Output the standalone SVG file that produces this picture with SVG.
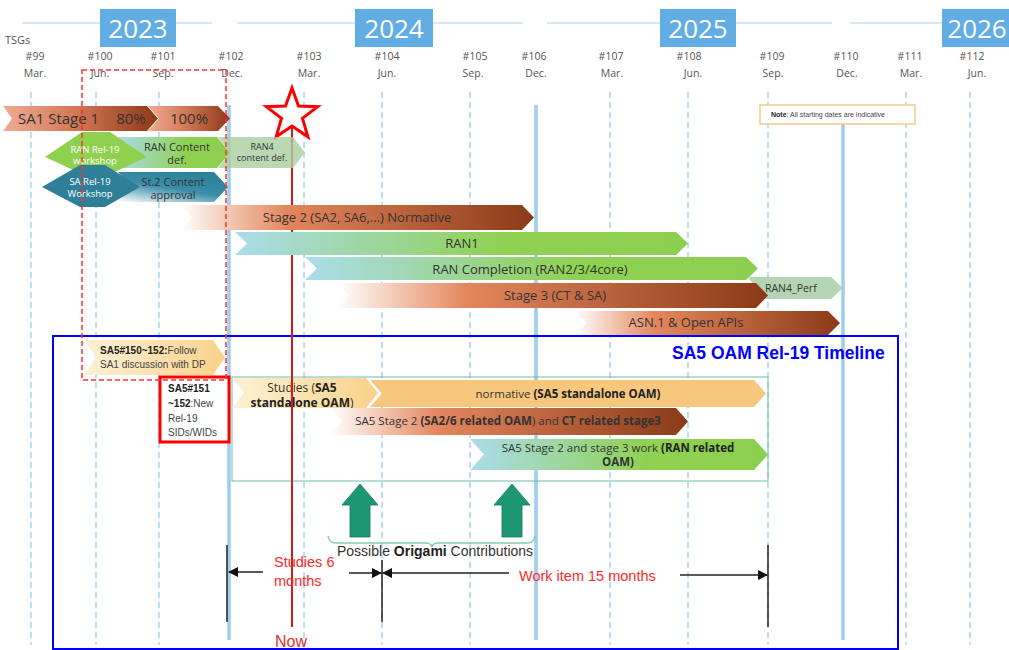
<svg xmlns="http://www.w3.org/2000/svg" width="1009" height="650" viewBox="0 0 1009 650">
<style>
.hdr{font-family:"Open Sans","DejaVu Sans",sans-serif;font-size:10.5px;fill:#555;text-anchor:middle}
.yr{font-family:"Open Sans","DejaVu Sans",sans-serif;font-size:26px;fill:#fff;text-anchor:middle}
.bt{font-family:"Open Sans","DejaVu Sans",sans-serif;fill:#333;text-anchor:middle}
.wt{font-family:"Open Sans","DejaVu Sans",sans-serif;fill:#fff;text-anchor:middle;font-size:9.5px}
.ar{font-family:"Liberation Sans",Arial,sans-serif}
.grid{stroke:#a9d3f0;stroke-width:1.5;stroke-dasharray:6 4;fill:none}
.solid{stroke:#9fcdee;stroke-width:3.5;fill:none}
.red{font-family:"Liberation Sans",Arial,sans-serif;fill:#ff2a2a;font-size:14.5px}
.dim{stroke:#222;stroke-width:1.5;fill:none}
</style>
<defs>
<linearGradient id="sa1" x1="0" y1="0" x2="1" y2="0"><stop offset="0" stop-color="#eeac94"/><stop offset="0.45" stop-color="#d47a55"/><stop offset="1" stop-color="#8d3917"/></linearGradient>
<linearGradient id="brown" x1="0" y1="0" x2="1" y2="0"><stop offset="0" stop-color="#ffffff"/><stop offset="0.3" stop-color="#e4875d"/><stop offset="1" stop-color="#8a3a17"/></linearGradient>
<linearGradient id="bg" x1="0" y1="0" x2="1" y2="0"><stop offset="0" stop-color="#abdcec"/><stop offset="0.6" stop-color="#8fd151"/><stop offset="1" stop-color="#8ccf4e"/></linearGradient>
<linearGradient id="teal" x1="0" y1="1" x2="0.6" y2="0"><stop offset="0" stop-color="#ffffff"/><stop offset="0.55" stop-color="#3a8ea8"/><stop offset="1" stop-color="#2f8199"/></linearGradient>
<linearGradient id="yel" x1="0" y1="0" x2="1" y2="0"><stop offset="0" stop-color="#fdf1d6"/><stop offset="1" stop-color="#f9d28a"/></linearGradient>
<marker id="ah" viewBox="0 0 10 10" refX="9" refY="5" markerWidth="7" markerHeight="7" orient="auto"><path d="M0,0 L10,5 L0,10 Z" fill="#111"/></marker>
</defs>
<rect width="1009" height="650" fill="#fff"/>

<g id="header">
<path d="M22,23 H212 M237,23 H523 M547,23 H832 M850,23 H1009" stroke="#d6e8f6" stroke-width="2"/>
<rect x="100" y="9" width="76" height="38" fill="#62ade3"/><text class="yr" x="138" y="38">2023</text>
<rect x="355" y="9" width="78" height="38" fill="#62ade3"/><text class="yr" x="394" y="38">2024</text>
<rect x="660" y="9" width="76" height="38" fill="#62ade3"/><text class="yr" x="698" y="38">2025</text>
<rect x="942" y="9" width="70" height="38" fill="#62ade3"/><text class="yr" x="977" y="38" font-size="25">2026</text>
<text class="hdr" x="5" y="44" style="text-anchor:start;font-size:11px">TSGs</text>
<text class="hdr" x="35" y="60">#99</text><text class="hdr" x="35" y="77">Mar.</text>
<text class="hdr" x="100" y="60">#100</text><text class="hdr" x="100" y="77">Jun.</text>
<text class="hdr" x="163" y="60">#101</text><text class="hdr" x="163" y="77">Sep.</text>
<text class="hdr" x="231" y="60">#102</text><text class="hdr" x="232" y="77">Dec.</text>
<text class="hdr" x="309" y="60">#103</text><text class="hdr" x="309" y="77">Mar.</text>
<text class="hdr" x="387" y="60">#104</text><text class="hdr" x="387" y="77">Jun.</text>
<text class="hdr" x="475" y="60">#105</text><text class="hdr" x="473" y="77">Sep.</text>
<text class="hdr" x="534" y="60">#106</text><text class="hdr" x="536" y="77">Dec.</text>
<text class="hdr" x="611" y="60">#107</text><text class="hdr" x="612" y="77">Mar.</text>
<text class="hdr" x="689" y="60">#108</text><text class="hdr" x="693" y="77">Jun.</text>
<text class="hdr" x="772" y="60">#109</text><text class="hdr" x="773" y="77">Sep.</text>
<text class="hdr" x="846" y="60">#110</text><text class="hdr" x="847" y="77">Dec.</text>
<text class="hdr" x="910" y="60">#111</text><text class="hdr" x="911" y="77">Mar.</text>
<text class="hdr" x="972" y="60">#112</text><text class="hdr" x="977" y="77">Jun.</text>
</g>

<g id="grid">
<path class="grid" d="M31,92 V645 M159,92 V645 M304,92 V645 M382,92 V645 M470,92 V645 M610,92 V645 M688,92 V645 M768,92 V645 M906,92 V645 M970,92 V645"/>
<path class="grid" d="M96,92 V645" stroke="#4fb3da"/>
<path class="solid" d="M229,105 V640 M536,105 V640 M843,105 V640"/>
</g>

<g id="blue-frame"><rect x="53" y="336" width="845" height="313" fill="none" stroke="#0000ff" stroke-width="2"/></g>

<g id="sa5-bars">
<g id="sa5-150"><path d="M84,340 H213 L225,357.5 L213,375 H84 L96,357.5 Z" fill="url(#yel)"/>
<text class="ar" x="100" y="354" font-size="10" fill="#444"><tspan font-weight="bold" fill="#222">SA5#150~152:</tspan>Follow</text>
<text class="ar" x="100" y="368" font-size="10" fill="#444">SA1 discussion with DP</text></g>
<g id="sa5-151"><rect x="160" y="377" width="69" height="65" fill="#fff" stroke="#ff0000" stroke-width="3"/>
<text class="ar" x="168" y="392" font-size="10" font-weight="bold" fill="#222">SA5#151</text>
<text class="ar" x="168" y="407" font-size="10" fill="#444"><tspan font-weight="bold" fill="#222">~152</tspan>:New</text>
<text class="ar" x="168" y="422" font-size="10" fill="#444">Rel-19</text>
<text class="ar" x="168" y="436" font-size="10" fill="#444">SIDs/WIDs</text></g>
<rect id="sa5-frame" x="232" y="377" width="536" height="104" fill="none" stroke="#6cbfa8" stroke-width="1"/>
<g id="normative"><path d="M370,380 H754 L766,393.5 L754,407 H370 L382,393.5 Z" fill="#f6c77d"/>
<text class="bt" x="568" y="398" font-size="11.5">normative <tspan font-weight="bold" fill="#222">(SA5 standalone OAM)</tspan></text></g>
<g id="studies"><path d="M232,378 H366 L378,393 L366,408 H232 L244,393 Z" fill="url(#yel)"/>
<text class="bt" x="302" y="392" font-size="12">Studies (<tspan font-weight="bold" fill="#222">SA5</tspan></text>
<text class="bt" x="302" y="407" font-size="12"><tspan font-weight="bold" fill="#222">standalone OAM</tspan>)</text></g>
<g id="sa5-stage2"><path d="M330,408 H676 L688,421.5 L676,435 H330 L342,421.5 Z" fill="url(#brown)"/>
<text class="bt" x="508" y="425" font-size="11.5" fill="#3a2a22">SA5 Stage 2 <tspan font-weight="bold">(SA2/6 related OAM</tspan>) and <tspan font-weight="bold">CT related stage3</tspan></text></g>
<g id="sa5-ran"><path d="M470,439 H754 L768,454.5 L754,470 H470 L484,454.5 Z" fill="url(#bg)"/>
<text class="bt" x="618" y="452" font-size="11.5">SA5 Stage 2 and stage 3 work <tspan font-weight="bold" fill="#222">(RAN related</tspan></text>
<text class="bt" x="618" y="466" font-size="11.5" font-weight="bold" fill="#222">OAM)</text></g>
</g>

<g id="now">
<path d="M292,126 V627" stroke="#d01c1c" stroke-width="2"/>
<polygon points="292,88 298.5,106.1 317.7,106.7 302.5,118.4 307.9,136.8 292,126 276.1,136.8 281.5,118.4 266.3,106.7 285.5,106.1" fill="#fff" stroke="#ff0000" stroke-width="3" stroke-linejoin="miter"/>
<text class="ar" x="275" y="647" font-size="16" fill="#e03030">Now</text>
</g>

<g id="upper-bars">
<g id="sa1"><path d="M3,106 H147 L158,118.5 L147,131 H3 L12,118.5 Z" fill="url(#sa1)"/>
<path d="M148,106 H218 L230,118.5 L218,131 H148 L159,118.5 Z" fill="url(#sa1)"/>
<text class="bt" x="18" y="124" font-size="15" style="text-anchor:start" fill="#3a2a22">SA1 Stage 1</text>
<text class="bt" x="131" y="124" font-size="15" fill="#3a2a22">80%</text>
<text class="bt" x="189" y="124" font-size="15" fill="#3a2a22">100%</text></g>
<g id="ran-content"><path d="M118,137 H217 L230,152.5 L217,168 H118 L131,152.5 Z" fill="url(#bg)"/>
<text class="bt" x="177" y="151" font-size="11">RAN Content</text><text class="bt" x="177" y="164" font-size="11">def.</text></g>
<g id="ran4-content"><path d="M218,137 H293 L305,152.5 L293,168 H218 L230,152.5 Z" fill="#a9cf9f" fill-opacity="0.8"/>
<text class="bt" x="262" y="150" font-size="9">RAN4</text><text class="bt" x="262" y="161" font-size="9">content def.</text></g>
<g id="ran-workshop"><polygon points="45,157 82,132 110,132 147,157 110,174 82,174" fill="#8fd14f"/>
<text class="wt" x="95" y="153">RAN Rel-19</text><text class="wt" x="95" y="164">workshop</text></g>
<g id="st2"><path d="M118,172 H214 L228,187 L214,202 H118 L132,187 Z" fill="url(#teal)"/>
<text class="bt" x="173" y="186" font-size="11">St.2 Content</text><text class="bt" x="173" y="199" font-size="11">approval</text></g>
<g id="sa-workshop"><polygon points="42,187 80,165 105,165 140,187 105,207 80,207" fill="#2e7f97"/>
<text class="wt" x="90" y="185">SA Rel-19</text><text class="wt" x="90" y="197">Workshop</text></g>
<g id="stage2"><path d="M180,205 H522 L534,217.5 L522,230 H180 L192,217.5 Z" fill="url(#brown)"/>
<text class="bt" x="357" y="222" font-size="13" fill="#3a2a22">Stage 2 (SA2, SA6,...) Normative</text></g>
<g id="ran1"><path d="M235,232 H676 L688,243.5 L676,255 H235 L247,243.5 Z" fill="url(#bg)"/>
<text class="bt" x="462" y="248" font-size="13">RAN1</text></g>
<g id="ran4perf"><path d="M748,277 H831 L843,288 L831,299 H748 L756,288 Z" fill="#b3d5b3"/>
<text class="bt" x="765" y="292" font-size="10.5" style="text-anchor:start">RAN4_Perf</text></g>
<g id="ran-completion"><path d="M305,257 H746 L758,268.5 L746,280 H305 L317,268.5 Z" fill="url(#bg)"/>
<text class="bt" x="530" y="274" font-size="13">RAN Completion (RAN2/3/4core)</text></g>
<g id="stage3"><path d="M337,283 H756 L768,295.5 L756,308 H337 L349,295.5 Z" fill="url(#brown)"/>
<text class="bt" x="555" y="300" font-size="13" fill="#3a2a22">Stage 3 (CT &amp; SA)</text></g>
<g id="asn1"><path d="M575,311 H828 L840,323 L828,335 H575 L587,323 Z" fill="url(#brown)"/>
<text class="bt" x="686" y="327" font-size="13" fill="#3a2a22">ASN.1 &amp; Open APIs</text></g>
</g>

<g id="note"><rect x="760" y="105" width="155" height="19" fill="#fff" stroke="#f6c98a" stroke-width="1.5"/>
<text class="ar" x="771" y="117" font-size="7" fill="#444"><tspan font-weight="bold" fill="#222">Note</tspan>: All starting dates are indicative</text></g>

<g id="sa5-title"><text class="ar" x="672" y="359" font-size="17.5" font-weight="bold" fill="#0000ff">SA5 OAM Rel-19 Timeline</text></g>

<g id="red-dash"><rect x="82" y="70" width="144" height="310" fill="none" stroke="#ff3030" stroke-width="1.5" stroke-dasharray="5 3"/></g>

<g id="origami">
<path d="M350,537 V505 H342 L360,484 L378,505 H370 V537 Z" fill="#1c9673" stroke="#167a5d" stroke-width="0.8"/>
<path d="M502,537 V505 H494 L512,484 L530,505 H522 V537 Z" fill="#1c9673" stroke="#167a5d" stroke-width="0.8"/>
<path d="M328,536 Q329,543 336,543 L426,543 Q431,543 432,547 Q433,543 438,543 L527,543 Q534,543 535,536" fill="none" stroke="#84cdb3" stroke-width="1.5"/>
<text class="ar" x="337" y="556" font-size="14" fill="#333">Possible <tspan font-weight="bold" fill="#222">Origami</tspan> Contributions</text>
</g>

<g id="connectors">
<path class="dim" d="M227,545 V622 M382,560 V622 M768,545 V627"/>
<line class="dim" x1="263" y1="572" x2="229" y2="572" marker-end="url(#ah)"/>
<line class="dim" x1="349" y1="573" x2="381" y2="573" marker-end="url(#ah)"/>
<line class="dim" x1="509" y1="573" x2="383" y2="573" marker-end="url(#ah)"/>
<line class="dim" x1="680" y1="575" x2="767" y2="575" marker-end="url(#ah)"/>
</g>
<g id="dim-labels">
<text class="red" x="274" y="567">Studies 6</text>
<text class="red" x="274" y="586">months</text>
<text class="red" x="519" y="581">Work item 15 months</text>
</g>
</svg>
